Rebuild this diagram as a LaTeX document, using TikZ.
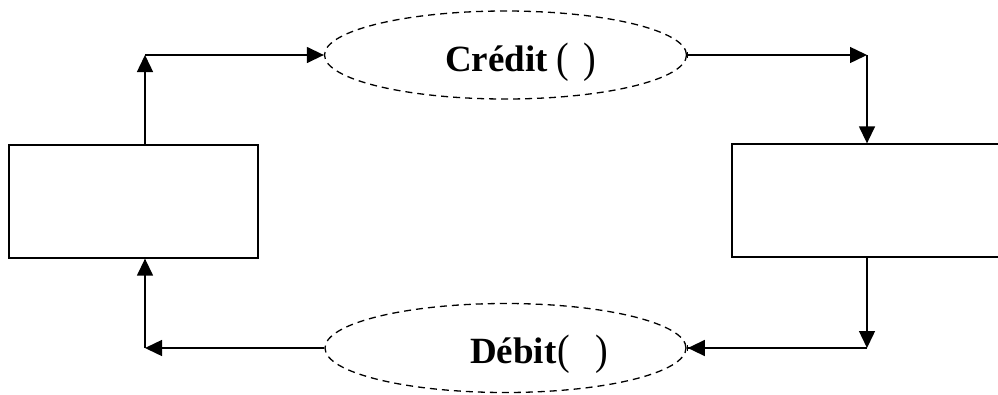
\documentclass[tikz,border=0pt]{standalone}
\usepackage{fontspec}
\usepackage{graphicx}
\setmainfont{Liberation Serif}
\usetikzlibrary{arrows.meta,shapes.geometric}
\newcommand{\lblfont}{\fontsize{37}{40}\selectfont\bfseries}
\newcommand{\pr}[1]{\raisebox{-1.5pt}{\scalebox{1}[1.12]{\fontsize{38}{40}\selectfont\mdseries #1}}}
\tikzset{
  box/.style={draw, line width=1.3pt, rectangle, inner sep=0pt},
  oval/.style={draw, line width=1.3pt, ellipse, dash pattern=on 7pt off 5pt, inner sep=0pt},
  conn/.style={line width=1.4pt, -{Triangle[length=17pt,width=16pt]}},
  tick/.style={line width=1.4pt, {Bar[width=6pt,line width=1.2pt]}-{Triangle[length=17pt,width=16pt]}},
  tickend/.style={line width=1.4pt, -{Triangle[length=17pt,width=16pt,sep=0pt]Bar[width=6pt,line width=1.2pt]}},
  txt/.style={anchor=base west, inner sep=0pt}
}
\begin{document}
\begin{tikzpicture}[x=1pt,y=-1pt]
\useasboundingbox (0,0) rectangle (998,394);
\clip (0,0) rectangle (998,394);
% boxes
\node[box, minimum width=249pt, minimum height=113pt] (L) at (133.5,201.5) {};
\node[box, minimum width=278pt, minimum height=113pt] (R) at (871,200.5) {};
% ellipses
\node[oval, minimum width=362pt, minimum height=88pt] (E1) at (505.5,55) {};
\node[oval, minimum width=361pt, minimum height=89pt] (E2) at (505.5,348) {};
% labels
\node[txt] (T1) at (445,71) {\lblfont Crédit\hspace{8.3pt}\pr{(}\hspace{15pt}\pr{)}};
\node[txt] (T2) at (470,363) {\lblfont Débit\hspace{0.5pt}\pr{(}\hspace{26pt}\pr{)}};
% corners
\coordinate (c1) at (145,55);
\coordinate (c2) at (867,55);
\coordinate (c3) at (867,348);
\coordinate (c4) at (145,348);
% connectors
\draw[conn] (L.north -| c1) -- (c1);
\draw[conn] (c1) -- (E1.west);
\draw[tick] (E1.east) -- (c2);
\draw[conn] (c2) -- (R.north -| c2);
\draw[conn] (R.south -| c3) -- (c3);
\draw[tickend] (c3) -- (E2.east);
\draw[conn] (E2.west) -- (c4);
\draw[conn] (c4) -- (L.south -| c4);
\end{tikzpicture}
\end{document}
